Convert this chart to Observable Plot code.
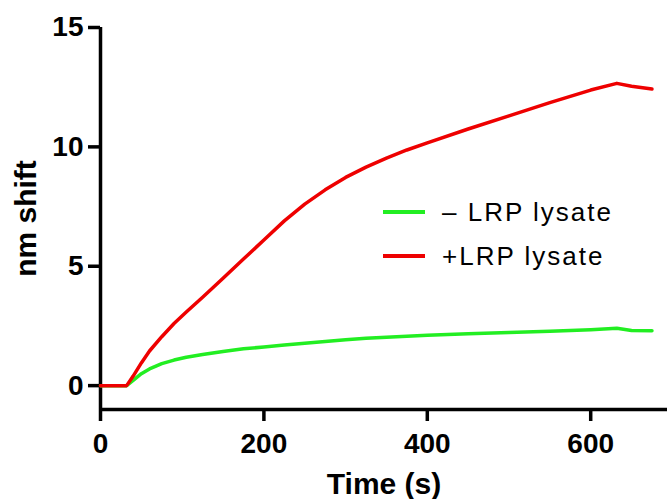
<!DOCTYPE html>
<html>
<head>
<meta charset="utf-8">
<script src="https://cdn.jsdelivr.net/npm/d3@7"></script>
<script src="https://cdn.jsdelivr.net/npm/@observablehq/plot@0.6"></script>
<style>
  html, body { margin: 0; padding: 0; background: #fff; }
  #wrap { position: relative; width: 667px; height: 499px; }
  .legend { position: absolute; left: 383px; top: 190px; font-family: "Liberation Sans", Arial, sans-serif; font-size: 26px; letter-spacing: 2px; color: #000; }
  .legend .row { display: flex; align-items: center; height: 44px; }
  .legend .swatch { width: 42px; height: 4px; margin-right: 17px; }
</style>
</head>
<body>
<div id="wrap"></div>
<script>
const times = [0, 32, 40, 50, 60, 75, 90, 105, 125, 150, 175, 200, 225, 250, 275, 300, 325, 350, 375, 400, 450, 500, 550, 600, 632, 650, 675];
const minusLRP = [0, 0, 0.22, 0.5, 0.7, 0.92, 1.07, 1.19, 1.3, 1.43, 1.54, 1.62, 1.7, 1.77, 1.85, 1.92, 1.98, 2.03, 2.07, 2.11, 2.17, 2.23, 2.28, 2.34, 2.40, 2.31, 2.30];
const plusLRP = [0, 0, 0.4, 0.95, 1.45, 2.05, 2.6, 3.08, 3.7, 4.5, 5.3, 6.1, 6.9, 7.6, 8.2, 8.72, 9.15, 9.53, 9.87, 10.17, 10.75, 11.3, 11.85, 12.38, 12.66, 12.54, 12.42];
const seriesNames = ["– LRP lysate", "+LRP lysate"];
const seriesColors = ["#22ee22", "#ee0000"];
const xTicks = [0, 200, 400, 600];
const yTicks = [0, 5, 10, 15];

const rows = [];
times.forEach((t, i) => {
  rows.push({t, v: minusLRP[i], s: seriesNames[0]});
  rows.push({t, v: plusLRP[i], s: seriesNames[1]});
});

const tickFont = {fontFamily: "Liberation Sans, Arial, sans-serif", fontWeight: "bold", fontSize: 28};

const chart = Plot.plot({
  width: 667,
  height: 499,
  marginLeft: 100,
  marginRight: 0,
  marginTop: 27,
  marginBottom: 90,
  style: {fontFamily: "Liberation Sans, Arial, sans-serif", color: "#000", background: "#fff", overflow: "visible"},
  x: {domain: [0, 694], axis: null},
  y: {domain: [-1, 15], axis: null},
  color: {domain: seriesNames, range: seriesColors},
  marks: [
    Plot.ruleX([0], {y1: -1, y2: 15, stroke: "#000", strokeWidth: 3.5}),
    Plot.ruleY([-1], {x1: 0, x2: 694, stroke: "#000", strokeWidth: 3.5}),
    Plot.axisY({ticks: yTicks, tickSize: 12, tickPadding: 5, strokeWidth: 3.5, ...tickFont, label: null}),
    Plot.axisX({ticks: xTicks, tickSize: 12, tickPadding: 12, strokeWidth: 3.5, ...tickFont, label: null}),
    Plot.axisY({ticks: [], tickSize: 0, fontFamily: "Liberation Sans, Arial, sans-serif", fontWeight: "bold", fontSize: 30,
      label: "nm shift", labelAnchor: "center", labelOffset: 86, labelArrow: "none"}),
    Plot.axisX({ticks: [], tickSize: 0, fontFamily: "Liberation Sans, Arial, sans-serif", fontWeight: "bold", fontSize: 30,
      label: "Time (s)", labelAnchor: "center", labelOffset: 84, labelArrow: "none"}),
    Plot.line(rows, {x: "t", y: "v", stroke: "s", strokeWidth: 3.5, curve: "linear"})
  ]
});
const wrap = document.getElementById("wrap");
wrap.appendChild(chart);

const legend = document.createElement("div");
legend.className = "legend";
seriesNames.forEach((n, i) => {
  const row = document.createElement("div");
  row.className = "row";
  const sw = document.createElement("div");
  sw.className = "swatch";
  sw.style.background = seriesColors[i];
  const tx = document.createElement("span");
  tx.textContent = n;
  row.appendChild(sw);
  row.appendChild(tx);
  legend.appendChild(row);
});
wrap.appendChild(legend);
</script>
</body>
</html>
